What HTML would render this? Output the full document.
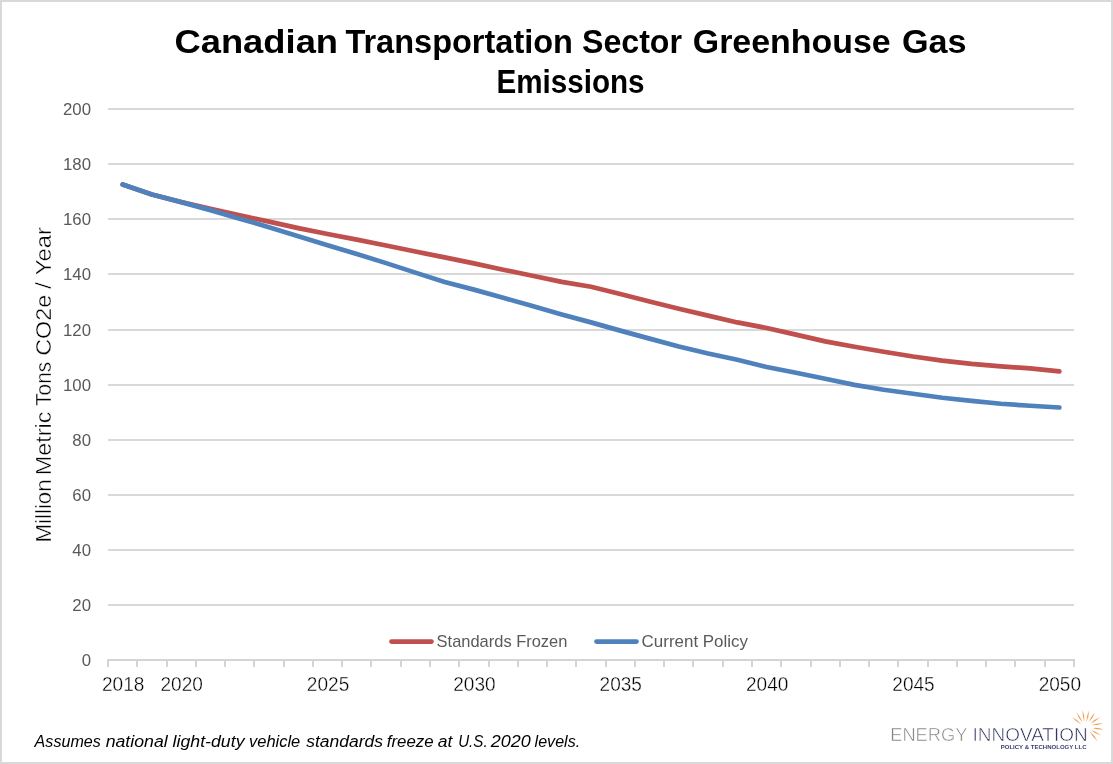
<!DOCTYPE html>
<html lang="en"><head><meta charset="utf-8"><title>Canadian Transportation Sector Greenhouse Gas Emissions</title>
<style>html,body{margin:0;padding:0;background:#fff;}body{width:1113px;height:764px;overflow:hidden;}svg{display:block;}
text{font-family:"Liberation Sans",sans-serif;}
.cg{fill:#000;font-size:19.4px;stroke:#fff;stroke-width:0.36px;paint-order:fill stroke;}
.yt{fill:#000;font-size:22px;stroke:#fff;stroke-width:0.4px;paint-order:fill stroke;}
.yl{fill:#595959;font-size:16.8px;}
.lg{fill:#595959;font-size:16.6px;}
.fn{fill:#000;font-size:16.8px;font-style:italic;}
.tt{fill:#000;font-size:34px;font-weight:bold;}
</style></head><body>
<svg width="1113" height="764" viewBox="0 0 1113 764">
<rect x="0" y="0" width="1113" height="764" fill="#d9d9d9"/>
<rect x="2" y="2" width="1109" height="760" fill="#ffffff"/>
<g stroke="#d9d9d9" stroke-width="2" fill="none">
<line x1="108.0" y1="605.00" x2="1074.0" y2="605.00"/>
<line x1="108.0" y1="550.00" x2="1074.0" y2="550.00"/>
<line x1="108.0" y1="495.00" x2="1074.0" y2="495.00"/>
<line x1="108.0" y1="440.00" x2="1074.0" y2="440.00"/>
<line x1="108.0" y1="385.00" x2="1074.0" y2="385.00"/>
<line x1="108.0" y1="330.00" x2="1074.0" y2="330.00"/>
<line x1="108.0" y1="274.00" x2="1074.0" y2="274.00"/>
<line x1="108.0" y1="219.00" x2="1074.0" y2="219.00"/>
<line x1="108.0" y1="164.00" x2="1074.0" y2="164.00"/>
<line x1="108.0" y1="109.00" x2="1074.0" y2="109.00"/>
</g>
<g stroke="#d4d4d4" stroke-width="2" fill="none">
<line x1="107.0" y1="660.00" x2="1075.0" y2="660.00"/>
<line x1="108.00" y1="660.00" x2="108.00" y2="667.00"/>
<line x1="137.00" y1="660.00" x2="137.00" y2="667.00"/>
<line x1="167.00" y1="660.00" x2="167.00" y2="667.00"/>
<line x1="196.00" y1="660.00" x2="196.00" y2="667.00"/>
<line x1="225.00" y1="660.00" x2="225.00" y2="667.00"/>
<line x1="254.00" y1="660.00" x2="254.00" y2="667.00"/>
<line x1="284.00" y1="660.00" x2="284.00" y2="667.00"/>
<line x1="313.00" y1="660.00" x2="313.00" y2="667.00"/>
<line x1="342.00" y1="660.00" x2="342.00" y2="667.00"/>
<line x1="371.00" y1="660.00" x2="371.00" y2="667.00"/>
<line x1="401.00" y1="660.00" x2="401.00" y2="667.00"/>
<line x1="430.00" y1="660.00" x2="430.00" y2="667.00"/>
<line x1="459.00" y1="660.00" x2="459.00" y2="667.00"/>
<line x1="489.00" y1="660.00" x2="489.00" y2="667.00"/>
<line x1="518.00" y1="660.00" x2="518.00" y2="667.00"/>
<line x1="547.00" y1="660.00" x2="547.00" y2="667.00"/>
<line x1="576.00" y1="660.00" x2="576.00" y2="667.00"/>
<line x1="606.00" y1="660.00" x2="606.00" y2="667.00"/>
<line x1="635.00" y1="660.00" x2="635.00" y2="667.00"/>
<line x1="664.00" y1="660.00" x2="664.00" y2="667.00"/>
<line x1="693.00" y1="660.00" x2="693.00" y2="667.00"/>
<line x1="723.00" y1="660.00" x2="723.00" y2="667.00"/>
<line x1="752.00" y1="660.00" x2="752.00" y2="667.00"/>
<line x1="781.00" y1="660.00" x2="781.00" y2="667.00"/>
<line x1="811.00" y1="660.00" x2="811.00" y2="667.00"/>
<line x1="840.00" y1="660.00" x2="840.00" y2="667.00"/>
<line x1="869.00" y1="660.00" x2="869.00" y2="667.00"/>
<line x1="898.00" y1="660.00" x2="898.00" y2="667.00"/>
<line x1="928.00" y1="660.00" x2="928.00" y2="667.00"/>
<line x1="957.00" y1="660.00" x2="957.00" y2="667.00"/>
<line x1="986.00" y1="660.00" x2="986.00" y2="667.00"/>
<line x1="1015.00" y1="660.00" x2="1015.00" y2="667.00"/>
<line x1="1045.00" y1="660.00" x2="1045.00" y2="667.00"/>
<line x1="1074.00" y1="660.00" x2="1074.00" y2="667.00"/>
</g>
<text class="yl" x="91" y="666.00" text-anchor="end">0</text>
<text class="yl" x="91" y="611.00" text-anchor="end">20</text>
<text class="yl" x="91" y="556.00" text-anchor="end">40</text>
<text class="yl" x="91" y="501.00" text-anchor="end">60</text>
<text class="yl" x="91" y="446.00" text-anchor="end">80</text>
<text class="yl" x="91" y="391.00" text-anchor="end">100</text>
<text class="yl" x="91" y="336.00" text-anchor="end">120</text>
<text class="yl" x="91" y="280.00" text-anchor="end">140</text>
<text class="yl" x="91" y="225.00" text-anchor="end">160</text>
<text class="yl" x="91" y="170.00" text-anchor="end">180</text>
<text class="yl" x="91" y="115.00" text-anchor="end">200</text>
<text class="cg" x="123.14" y="691.2" text-anchor="middle" textLength="42.4" lengthAdjust="spacingAndGlyphs">2018</text>
<text class="cg" x="181.68" y="691.2" text-anchor="middle" textLength="42.4" lengthAdjust="spacingAndGlyphs">2020</text>
<text class="cg" x="328.05" y="691.2" text-anchor="middle" textLength="42.4" lengthAdjust="spacingAndGlyphs">2025</text>
<text class="cg" x="474.41" y="691.2" text-anchor="middle" textLength="42.4" lengthAdjust="spacingAndGlyphs">2030</text>
<text class="cg" x="620.77" y="691.2" text-anchor="middle" textLength="42.4" lengthAdjust="spacingAndGlyphs">2035</text>
<text class="cg" x="767.14" y="691.2" text-anchor="middle" textLength="42.4" lengthAdjust="spacingAndGlyphs">2040</text>
<text class="cg" x="913.50" y="691.2" text-anchor="middle" textLength="42.4" lengthAdjust="spacingAndGlyphs">2045</text>
<text class="cg" x="1059.86" y="691.2" text-anchor="middle" textLength="42.4" lengthAdjust="spacingAndGlyphs">2050</text>
<path d="M122.64 184.50 L151.91 194.41 L181.18 201.98 L210.45 208.73 L239.73 215.34 L269.00 221.67 L298.27 228.15 L327.55 234.07 L356.82 239.63 L386.09 245.50 L415.36 251.55 L444.64 257.39 L473.91 263.40 L503.18 269.68 L532.45 275.74 L561.73 281.83 L591.00 286.78 L620.27 294.03 L649.55 301.49 L678.82 308.68 L708.09 315.64 L737.36 322.42 L766.64 328.01 L795.91 334.59 L825.18 341.37 L854.45 346.79 L883.73 351.72 L913.00 356.51 L942.27 360.62 L971.55 363.89 L1000.82 366.37 L1030.09 368.36 L1059.36 371.44" fill="none" stroke="#c0504d" stroke-width="4.7" stroke-linecap="round" stroke-linejoin="round"/>
<path d="M122.64 184.50 L151.91 194.41 L181.18 202.12 L210.45 210.11 L239.73 218.64 L269.00 227.18 L298.27 236.13 L327.55 245.30 L356.82 254.01 L386.09 263.12 L415.36 272.62 L444.64 281.93 L473.91 289.64 L503.18 297.79 L532.45 306.00 L561.73 314.50 L591.00 322.39 L620.27 330.63 L649.55 338.61 L678.82 346.46 L708.09 353.48 L737.36 359.76 L766.64 367.01 L795.91 372.79 L825.18 378.77 L854.45 384.91 L883.73 389.78 L913.00 393.75 L942.27 397.74 L971.55 400.91 L1000.82 403.72 L1030.09 405.76 L1059.36 407.52" fill="none" stroke="#4f81bd" stroke-width="4.7" stroke-linecap="round" stroke-linejoin="round"/>
<line x1="391.5" y1="641.6" x2="431.5" y2="641.6" stroke="#c0504d" stroke-width="4.7" stroke-linecap="round"/>
<text class="lg" x="436.6" y="646.8" textLength="130.8" lengthAdjust="spacingAndGlyphs">Standards Frozen</text>
<line x1="596.5" y1="641.6" x2="636.5" y2="641.6" stroke="#4f81bd" stroke-width="4.7" stroke-linecap="round"/>
<text class="lg" x="641.6" y="646.8" textLength="106.4" lengthAdjust="spacingAndGlyphs">Current Policy</text>
<text class="tt" x="174.4" y="53.2" textLength="163.7" lengthAdjust="spacingAndGlyphs">Canadian</text>
<text class="tt" x="345.4" y="53.2" textLength="227.6" lengthAdjust="spacingAndGlyphs">Transportation</text>
<text class="tt" x="582.0" y="53.2" textLength="100.0" lengthAdjust="spacingAndGlyphs">Sector</text>
<text class="tt" x="692.8" y="53.2" textLength="197.8" lengthAdjust="spacingAndGlyphs">Greenhouse</text>
<text class="tt" x="902.0" y="53.2" textLength="64.6" lengthAdjust="spacingAndGlyphs">Gas</text>
<text class="tt" x="496.4" y="92.7" textLength="148.2" lengthAdjust="spacingAndGlyphs">Emissions</text>
<text class="yt" transform="translate(51.1 542.4) rotate(-90)" x="0" y="0" textLength="62.9" lengthAdjust="spacingAndGlyphs">Million</text>
<text class="yt" transform="translate(51.1 475.2) rotate(-90)" x="0" y="0" textLength="63.6" lengthAdjust="spacingAndGlyphs">Metric</text>
<text class="yt" transform="translate(51.1 405.9) rotate(-90)" x="0" y="0" textLength="44.2" lengthAdjust="spacingAndGlyphs">Tons</text>
<text class="yt" transform="translate(51.1 355.8) rotate(-90)" x="0" y="0" textLength="61.0" lengthAdjust="spacingAndGlyphs">CO2e</text>
<text class="yt" transform="translate(51.1 289.0) rotate(-90)" x="0" y="0" textLength="7.1" lengthAdjust="spacingAndGlyphs">/</text>
<text class="yt" transform="translate(51.1 275.2) rotate(-90)" x="0" y="0" textLength="48.0" lengthAdjust="spacingAndGlyphs">Year</text>
<text class="fn" x="34.6" y="746.8" textLength="66.2" lengthAdjust="spacingAndGlyphs">Assumes</text>
<text class="fn" x="105.7" y="746.8" textLength="62.0" lengthAdjust="spacingAndGlyphs">national</text>
<text class="fn" x="172.6" y="746.8" textLength="71.9" lengthAdjust="spacingAndGlyphs">light-duty</text>
<text class="fn" x="249.0" y="746.8" textLength="51.3" lengthAdjust="spacingAndGlyphs">vehicle</text>
<text class="fn" x="306.2" y="746.8" textLength="76.8" lengthAdjust="spacingAndGlyphs">standards</text>
<text class="fn" x="386.8" y="746.8" textLength="46.8" lengthAdjust="spacingAndGlyphs">freeze</text>
<text class="fn" x="437.7" y="746.8" textLength="14.6" lengthAdjust="spacingAndGlyphs">at</text>
<text class="fn" x="458.2" y="746.8" textLength="29.4" lengthAdjust="spacingAndGlyphs">U.S.</text>
<text class="fn" x="490.8" y="746.8" textLength="39.9" lengthAdjust="spacingAndGlyphs">2020</text>
<text class="fn" x="534.6" y="746.8" textLength="45.6" lengthAdjust="spacingAndGlyphs">levels.</text>
<text x="890.2" y="741.0" font-size="18.6" fill="#7f7f7f" stroke="#fff" stroke-width="0.55" paint-order="fill stroke" textLength="77.2" lengthAdjust="spacingAndGlyphs">ENERGY</text>
<text x="972.6" y="741.0" font-size="18.6" fill="#272a57" stroke="#fff" stroke-width="0.55" paint-order="fill stroke" textLength="115" lengthAdjust="spacingAndGlyphs">INNOVATION</text>
<text x="1000.7" y="749" font-size="5.1" font-weight="bold" fill="#3a3d6e" textLength="85.9" lengthAdjust="spacingAndGlyphs">POLICY &amp; TECHNOLOGY LLC</text>
<g fill="#eea257">
<path d="M1081.52 724.55 Q1077.91 719.90 1071.88 717.05 Q1076.13 722.19 1081.52 724.55 Z"/>
<path d="M1082.70 722.85 Q1081.05 717.12 1076.50 712.15 Q1078.55 718.57 1082.70 722.85 Z"/>
<path d="M1084.36 722.10 Q1084.94 716.28 1082.54 710.10 Q1082.08 716.71 1084.36 722.10 Z"/>
<path d="M1086.31 722.09 Q1089.02 716.92 1089.09 710.31 Q1086.20 716.26 1086.31 722.09 Z"/>
<path d="M1088.78 722.04 Q1092.90 718.38 1095.02 712.46 Q1090.47 716.79 1088.78 722.04 Z"/>
<path d="M1090.27 723.72 Q1095.68 721.83 1100.13 717.08 Q1094.06 719.42 1090.27 723.72 Z"/>
<path d="M1091.81 725.17 Q1097.25 725.70 1102.99 723.23 Q1096.76 722.84 1091.81 725.17 Z"/>
<path d="M1092.80 727.95 Q1097.46 730.03 1103.30 729.35 Q1097.85 727.16 1092.80 727.95 Z"/>
<path d="M1090.75 730.11 Q1095.07 734.04 1101.45 735.79 Q1096.43 731.48 1090.75 730.11 Z"/>
<path d="M1089.35 731.09 Q1092.12 736.85 1097.65 741.41 Q1094.38 735.03 1089.35 731.09 Z"/>
</g>
</svg></body></html>
